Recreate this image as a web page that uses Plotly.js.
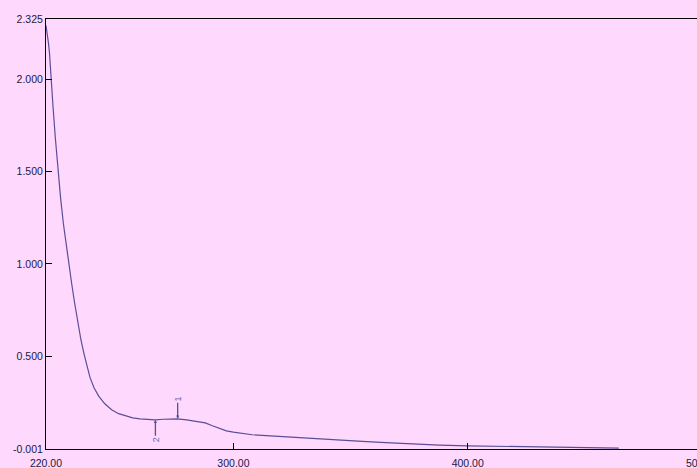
<!DOCTYPE html>
<html>
<head>
<meta charset="utf-8">
<script src="https://cdn.plot.ly/plotly-3.0.1.min.js"></script>
<style>
  html, body { margin: 0; padding: 0; overflow: hidden; background: #FFD8FE; }
  #chart { width: 720px; height: 468px; }
</style>
</head>
<body>
<div id="chart"></div>
<script>
// Absorbance spectrum (wavelength in nm)
const wavelength = [220, 220.5, 221, 221.5, 222.1, 223, 224, 225.1, 226.2, 227.4, 228.6, 229.8, 231, 232.2, 233.5,
  234.9, 236.3, 237.6, 238.8, 240.5, 242.5, 245, 248, 251, 254.4, 257, 260.1, 263, 266.7, 270, 273, 276.2,
  280, 284, 288, 291, 294, 297, 300, 304, 308, 314, 320, 328, 336, 345, 355, 365, 376, 388, 400, 412, 425, 437, 450, 464.5];
const absorbance = [2.29, 2.25, 2.20, 2.14, 2.00, 1.85, 1.68, 1.50, 1.36, 1.22, 1.10, 1.00, 0.89, 0.79, 0.69,
  0.59, 0.51, 0.44, 0.385, 0.33, 0.285, 0.245, 0.211, 0.190, 0.175, 0.167, 0.162, 0.159, 0.157, 0.160, 0.162, 0.162,
  0.157, 0.150, 0.140, 0.125, 0.110, 0.097, 0.090, 0.082, 0.076, 0.071, 0.067, 0.062, 0.055, 0.048, 0.040, 0.033, 0.026, 0.020, 0.016, 0.013, 0.011, 0.009, 0.006, 0.004];

// Picked peaks / valleys
const peakLabels = ['1', '2'];
const peakWavelength = [276.2, 266.7];
const peakAbsorbance = [0.162, 0.157];
const peakIsMax = [true, false];

// Axis ticks
const yTickVals = [-0.001, 0.5, 1.0, 1.5, 2.0, 2.325];
const yTickText = ['-0.001', '0.500', '1.000', '1.500', '2.000', '2.325'];
const xTickVals = [220, 300, 400, 500];
const xTickText = ['220.00', '300.00', '400.00', '500.00'];

const lineColor = '#5a4f96';
const bg = '#FFD8FE';

const trace = {
  x: wavelength,
  y: absorbance,
  type: 'scatter',
  mode: 'lines',
  line: { color: lineColor, width: 1.2 },
  hoverinfo: 'skip'
};

const annotations = peakLabels.map((lab, i) => ({
  x: peakWavelength[i],
  y: peakAbsorbance[i],
  xref: 'x', yref: 'y',
  text: lab,
  textangle: -90,
  showarrow: true,
  arrowhead: 2,
  arrowsize: 0.5,
  arrowwidth: 1.3,
  arrowcolor: lineColor,
  ax: 0,
  ay: peakIsMax[i] ? -20 : 20,
  font: { family: 'Liberation Sans, Arial, sans-serif', size: 9, color: '#6a60b0' }
}));

const layout = {
  width: 720,
  height: 468,
  margin: { l: 46, r: 18, t: 19, b: 19 },
  paper_bgcolor: bg,
  plot_bgcolor: bg,
  showlegend: false,
  font: { family: 'Liberation Sans, Arial, sans-serif', size: 10, color: '#1a1a3c' },
  xaxis: {
    range: [220, 500],
    tickvals: xTickVals,
    ticktext: xTickText,
    ticks: 'inside',
    ticklen: 6,
    tickcolor: '#000',
    showgrid: false,
    zeroline: false,
    showline: true,
    linecolor: '#000',
    linewidth: 1,
    mirror: true,
    ticklabelstandoff: 4,
    tickfont: { size: 10.5 }
  },
  yaxis: {
    range: [-0.001, 2.325],
    tickvals: yTickVals,
    ticktext: yTickText,
    ticks: 'inside',
    ticklen: 6,
    tickcolor: '#000',
    showgrid: false,
    zeroline: false,
    showline: true,
    linecolor: '#000',
    linewidth: 1,
    mirror: true,
    tickfont: { size: 10.5 }
  },
  annotations: annotations
};

Plotly.newPlot('chart', [trace], layout, { displayModeBar: false, staticPlot: true });
</script>
</body>
</html>
